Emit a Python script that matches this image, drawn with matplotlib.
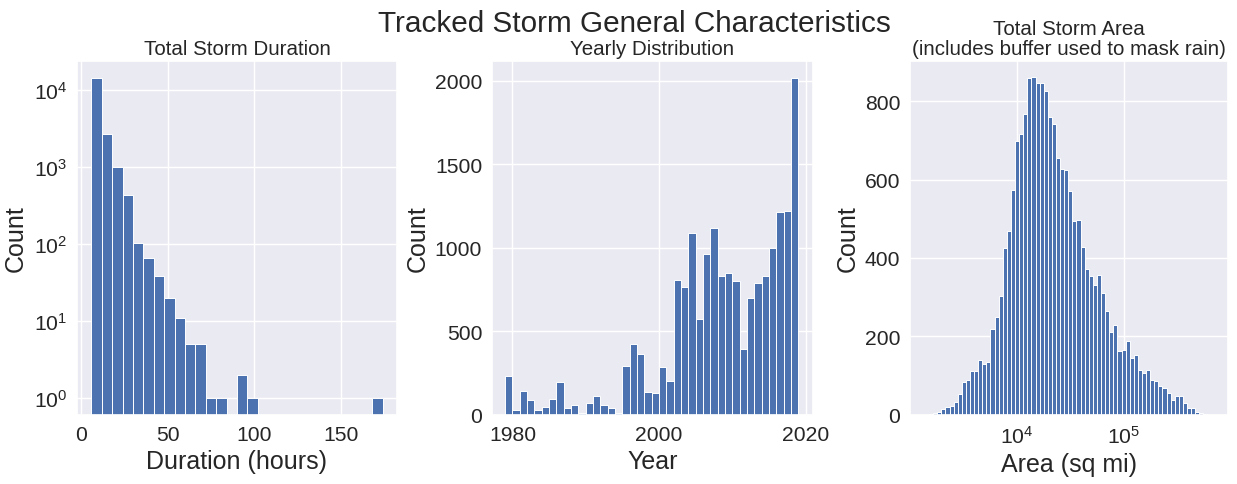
import numpy as np
import matplotlib
matplotlib.use("Agg")
import matplotlib.pyplot as plt
import seaborn as sns

# storm duration histogram, 6 h bins starting at 6 h
dur_lo, dur_hi = 6, 174
dur_counts = [14450, 2718, 1015, 436, 102, 66, 39, 20, 11, 5, 5, 1, 1, 0,
              2, 1, 0, 0, 0, 0, 0, 0, 0, 0, 0, 0, 0, 1]

# storms per year (last bin holds 2018 and 2019)
year_lo, year_hi = 1979, 2019
year_counts = [231, 30, 142, 88, 28, 48, 94, 195, 42, 60,
               10, 70, 114, 60, 42, 10, 295, 425, 363, 140,
               134, 285, 205, 810, 766, 1089, 572, 961, 1117, 834,
               850, 802, 395, 698, 792, 832, 999, 1212, 1220, 2014]

# storm area histogram, log-spaced bins (sq mi)
area_lo, area_hi = 1520, 6.0e5
area_counts = [3, 4, 7, 14, 20, 22, 34, 54, 83, 90,
               113, 112, 140, 131, 136, 220, 249, 302, 426, 470,
               574, 697, 715, 766, 858, 860, 847, 846, 826, 760,
               742, 654, 628, 625, 570, 494, 497, 427, 372, 355,
               332, 356, 310, 266, 211, 230, 162, 166, 188, 144,
               153, 115, 106, 115, 89, 87, 74, 68, 57, 38,
               49, 49, 31, 17, 17, 7, 4, 2]

sns.set_theme(style="darkgrid")
plt.rcParams["font.family"] = ["Arial", "Liberation Sans", "DejaVu Sans"]
plt.rcParams["axes.labelcolor"] = "#262626"
plt.rcParams["xtick.color"] = "#262626"
plt.rcParams["ytick.color"] = "#262626"

bar_color = "#4C72B0"
tick_size = 15.2
label_size = 18
title_size = 14.8

fig = plt.figure(figsize=(12.37, 4.85), dpi=100)
bot, h = 0.1423, 0.7299
ax1 = fig.add_axes([0.0622, bot, 0.2587, h])
ax2 = fig.add_axes([0.3977, bot, 0.2595, h])
ax3 = fig.add_axes([0.7357, bot, 0.2571, h])


def draw_hist(ax, edges, counts):
    edges = np.asarray(edges, dtype=float)
    ax.hist(edges[:-1], bins=edges, weights=counts, color=bar_color,
            edgecolor="white", linewidth=0.7)


# duration
dur_edges = np.linspace(dur_lo, dur_hi, len(dur_counts) + 1)
draw_hist(ax1, dur_edges, dur_counts)
ax1.set_yscale("log")
ax1.set_xlim(-2.4, 182.3)
ax1.set_ylim(10 ** -0.216, 10 ** 4.376)
ax1.set_xticks([0, 50, 100, 150])
ax1.set_yticks([1, 10, 100, 1000, 10000])
ax1.minorticks_off()
ax1.set_xlabel("Duration (hours)", fontsize=label_size)
ax1.set_ylabel("Count", fontsize=label_size)
ax1.set_title("Total Storm Duration", fontsize=title_size, pad=5)

# yearly
year_edges = np.linspace(year_lo, year_hi, len(year_counts) + 1)
draw_hist(ax2, year_edges, year_counts)
ax2.set_xlim(1977.2, 2021.0)
ax2.set_ylim(0, 2117)
ax2.set_xticks([1980, 2000, 2020])
ax2.set_yticks([0, 500, 1000, 1500, 2000])
ax2.set_xlabel("Year", fontsize=label_size)
ax2.set_ylabel("Count", fontsize=label_size)
ax2.set_title("Yearly Distribution", fontsize=title_size, pad=5)

# area
area_edges = np.logspace(np.log10(area_lo), np.log10(area_hi), len(area_counts) + 1)
draw_hist(ax3, area_edges, area_counts)
ax3.set_xscale("log")
ax3.set_xlim(10 ** 3.005, 10 ** 5.97)
ax3.set_ylim(0, 902)
ax3.set_xticks([1e4, 1e5])
ax3.minorticks_off()
ax3.set_yticks([0, 200, 400, 600, 800])
ax3.set_xlabel("Area (sq mi)", fontsize=label_size)
ax3.set_ylabel("Count", fontsize=label_size)
ax3.set_title("Total Storm Area\n(includes buffer used to mask rain)",
              fontsize=title_size, pad=5, linespacing=1.07)

for ax in (ax1, ax2, ax3):
    ax.tick_params(axis="both", labelsize=tick_size, length=0, pad=7)
    ax.grid(True, which="major", color="white", linewidth=1.0)

fig.text(0.513, 1 - 31.7 / 485, "Tracked Storm General Characteristics",
         ha="center", va="baseline", fontsize=21.4, color="#262626")

fig.savefig("out.png", dpi=100)
